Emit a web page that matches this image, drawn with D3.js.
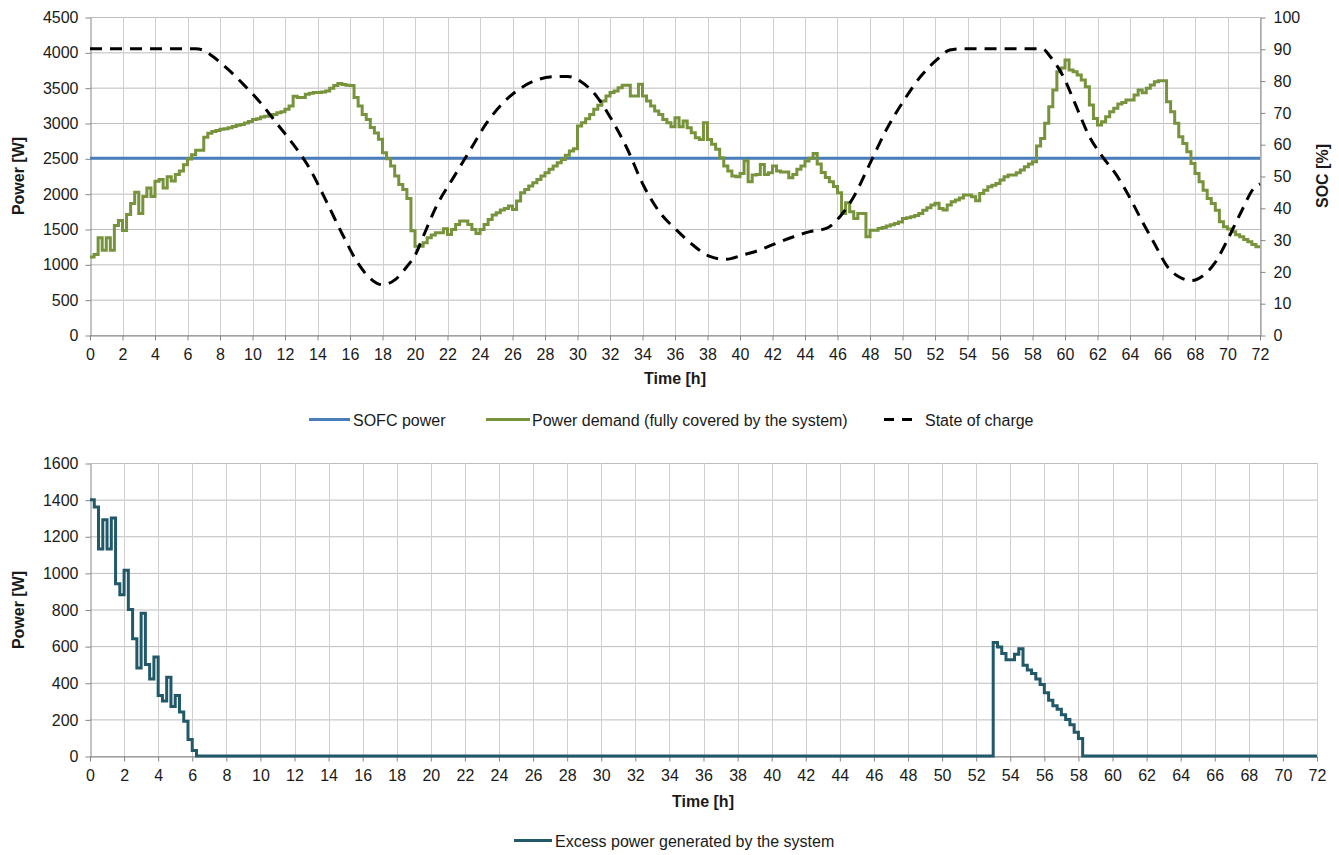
<!DOCTYPE html>
<html>
<head>
<meta charset="utf-8">
<script src="https://cdn.jsdelivr.net/npm/d3@7"></script>
<style>
  body { margin: 0; background: #fff; }
  text { font-family: "Liberation Sans", Arial, sans-serif; }
</style>
</head>
<body>
<svg id="chart" width="1339" height="855"></svg>
<script>
// ---- data ----
var timeTicks = [0,2,4,6,8,10,12,14,16,18,20,22,24,26,28,30,32,34,36,38,40,42,44,46,48,50,52,54,56,58,60,62,64,66,68,70,72];
var powerTicks = [0,500,1000,1500,2000,2500,3000,3500,4000,4500];
var socTicks = [0,10,20,30,40,50,60,70,80,90,100];
var excessTicks = [0,200,400,600,800,1000,1200,1400,1600];

var sofcTimes = [0, 72];
var sofcPower = [2500, 2500];

// power demand, one value per quarter hour (4 per row = 1 hour)
var demandStep = 0.25;
var demand = [
  1105,1140,1375,1200, 1375,1200,1550,1620, 1480,1705,1860,2020, 1720,1960,2080,1960,
  2175,2200,2080,2240, 2180,2270,2320,2410, 2490,2550,2615,2615, 2800,2855,2880,2895,
  2910,2920,2933,2950, 2967,2980,3000,3020, 3050,3060,3085,3095, 3108,3120,3146,3160,
  3193,3240,3380,3360, 3360,3406,3420,3430, 3430,3440,3453,3490, 3530,3560,3545,3535,
  3530,3360,3240,3120, 3050,2935,2860,2770, 2580,2495,2390,2250, 2130,2060,1930,1475,
  1255,1255,1305,1376, 1414,1447,1447,1503, 1423,1494,1565,1612, 1612,1565,1494,1437,
  1494,1565,1636,1697, 1730,1768,1790,1824, 1777,1895,2013,2060, 2108,2155,2202,2250,
  2296,2344,2391,2438, 2485,2542,2603,2636, 2957,3004,3061,3122, 3193,3250,3311,3382,
  3430,3453,3500,3533, 3533,3382,3382,3547, 3382,3311,3240,3170, 3122,3050,3004,2948,
  3075,2948,3028,2934, 2863,2792,2768,3004, 2768,2698,2627,2509, 2391,2320,2250,2239,
  2287,2466,2169,2263, 2273,2414,2273,2296, 2391,2320,2306,2306, 2226,2273,2344,2391,
  2462,2500,2570,2420, 2300,2230,2170,2100, 2013,1720,1871,1744, 1650,1720,1720,1390,
  1484,1484,1508,1520, 1541,1560,1579,1600, 1650,1660,1673,1690, 1720,1767,1800,1838,
  1863,1791,1768,1838, 1885,1909,1940,1980, 1980,1956,1900,2004, 2050,2098,2120,2145,
  2192,2239,2263,2263, 2296,2334,2381,2420, 2452,2674,2782,2995, 3230,3467,3726,3780,
  3891,3750,3726,3679, 3608,3514,3254,3065, 2971,3018,3089,3160, 3207,3268,3290,3325,
  3325,3396,3467,3429, 3490,3537,3585,3599, 3599,3301,3160,2995, 2806,2711,2593,2428,
  2287,2169,2050,1933, 1862,1767,1602,1531, 1500,1461,1420,1390, 1350,1319,1280,1248
];

// state of charge [%], read at selected times [h]
var socTimes = [0,6.5,7,7.5,8.5,9.5,10.5,11.5,12.5,13.5,14.5,15.5,16.5,17.2,18,18.8,19.5,20,20.5,21.3,
  22.4,23.4,24.4,25.4,26.5,27.5,28.5,29.4,30.2,31.2,32,33,34.1,35.1,36.1,37.1,38.1,39.1,40.2,41.2,
  42.2,43.3,44.3,45.3,46.15,47,48,49,50.1,51.1,52.1,52.9,53.5,58.6,59.1,59.9,60.7,61.5,62.3,63.1,
  63.9,64.7,65.5,66.3,67.2,67.8,68.4,69.2,70,70.8,71.7,72];
var socValues = [90,90,89.5,87.8,83.5,78.5,73,66.5,60,52.5,42.5,32,22.5,18,15.8,17.5,21.5,25,30.9,40.3,
  49.8,58.2,66.6,72.9,77.6,80.2,81.2,81.3,79.7,74.9,68.6,59.2,46.6,38.3,33,28.3,24.8,23.8,25.2,26.7,
  28.8,30.9,32.5,33.5,37.2,43.5,54,64.5,73.9,81.2,86.5,89.6,90,90,87.5,81.2,71.8,62.4,56.1,50.8,
  44,36.2,28.8,21.5,17.8,17.1,18.3,22.5,29.9,38.3,46.6,47.5];

// excess power: step start time [h] and value [W]
var excessTimes = [0,0.25,0.5,0.75,1,1.25,1.5,1.75,2,2.25,2.5,2.75,3,3.25,3.5,3.75,4,4.25,4.5,4.75,
  5,5.25,5.5,5.75,6,6.25,53,53.25,53.5,53.75,54,54.25,54.5,54.75,55,55.25,55.5,55.75,56,56.25,
  56.5,56.75,57,57.25,57.5,57.75,58,58.25,72];
var excessValues = [1400,1360,1130,1290,1130,1300,940,880,1015,800,640,480,780,500,420,540,330,300,430,270,
  330,240,190,90,30,0,620,595,560,525,525,555,585,495,470,450,420,390,345,305,
  275,255,225,200,170,130,95,0,0];

// ---- drawing ----
var svg = d3.select("#chart");
var fontSize = 16, titleSize = 16;
var gridH = "#bdbdbd", gridV = "#cfcfcf", axisCol = "#868686", textCol = "#1a1a1a";
var fmt = d3.format("d");

function frame(x, y, yTicks, left, right, top, bottom) {
  // gridlines
  svg.append("g").selectAll("line").data(yTicks).enter().append("line")
    .attr("x1", left).attr("x2", right)
    .attr("y1", function(d) { return y(d) + 0.5; }).attr("y2", function(d) { return y(d) + 0.5; })
    .attr("stroke", gridH);
  svg.append("g").selectAll("line").data(timeTicks.slice(1)).enter().append("line")
    .attr("x1", function(d) { return Math.round(x(d)) + 0.5; }).attr("x2", function(d) { return Math.round(x(d)) + 0.5; })
    .attr("y1", top).attr("y2", bottom)
    .attr("stroke", gridV);

  var ya = svg.append("g").attr("transform", "translate(" + (left + 0.5) + ",0.5)")
    .call(d3.axisLeft(y).tickValues(yTicks).tickFormat(fmt).tickSize(5).tickPadding(7).tickSizeOuter(0));
  var xa = svg.append("g").attr("transform", "translate(0," + (bottom + 0.5) + ")")
    .call(d3.axisBottom(x).tickValues(timeTicks).tickFormat(fmt).tickSize(5).tickPadding(8).tickSizeOuter(0));
  [ya, xa].forEach(function(a) {
    a.select(".domain").attr("stroke", axisCol);
    a.selectAll(".tick line").attr("stroke", axisCol);
    a.selectAll("text").attr("font-size", fontSize).attr("fill", textCol)
      .attr("font-family", '"Liberation Sans", Arial, sans-serif');
  });
}

function axisTitle(txt, x, y, rotate) {
  svg.append("text")
    .attr("transform", "translate(" + x + "," + y + ")" + (rotate ? " rotate(-90)" : ""))
    .attr("text-anchor", "middle").attr("dy", "0.35em")
    .attr("font-size", titleSize).attr("font-weight", "bold").attr("fill", textCol)
    .text(txt);
}

// --- top chart ---
var xTop = d3.scaleLinear().domain([0, 72]).range([90, 1260]);
var yPow = d3.scaleLinear().domain([0, 4500]).range([335, 17]);
var ySoc = d3.scaleLinear().domain([0, 100]).range([335, 17]);

frame(xTop, yPow, powerTicks, 90, 1260, 17, 335);

var ra = svg.append("g").attr("transform", "translate(1260.5,0.5)")
  .call(d3.axisRight(ySoc).tickValues(socTicks).tickFormat(fmt).tickSize(5).tickPadding(8).tickSizeOuter(0));
ra.select(".domain").attr("stroke", axisCol);
ra.selectAll(".tick line").attr("stroke", axisCol);
ra.selectAll("text").attr("font-size", fontSize).attr("fill", textCol)
  .attr("font-family", '"Liberation Sans", Arial, sans-serif');

axisTitle("Power [W]", 18, 176, true);
axisTitle("SOC [%]", 1322, 176, true);
axisTitle("Time [h]", 675, 378, false);

var sofcLine = d3.line().x(function(d, i) { return xTop(sofcTimes[i]); }).y(function(d) { return yPow(d); });
svg.append("path").datum(sofcPower).attr("d", sofcLine)
  .attr("fill", "none").attr("stroke", "#4a7ebb").attr("stroke-width", 3);

var demandPts = demand.map(function(v, i) { return [i * demandStep, v]; });
demandPts.push([72, demand[demand.length - 1]]);
var demandLine = d3.line().curve(d3.curveStepAfter)
  .x(function(d) { return xTop(d[0]); }).y(function(d) { return yPow(d[1]); });
svg.append("path").datum(demandPts).attr("d", demandLine)
  .attr("fill", "none").attr("stroke", "#77933c").attr("stroke-width", 3);

var socLine = d3.line().curve(d3.curveMonotoneX)
  .x(function(d, i) { return xTop(socTimes[i]); }).y(function(d) { return ySoc(d); });
svg.append("path").datum(socValues).attr("d", socLine)
  .attr("fill", "none").attr("stroke", "#000").attr("stroke-width", 3)
  .attr("stroke-dasharray", "12,8");

// legend top
var lg = svg.append("g").attr("font-size", fontSize).attr("fill", textCol);
lg.append("line").attr("x1", 309).attr("x2", 350).attr("y1", 419.5).attr("y2", 419.5)
  .attr("stroke", "#4a7ebb").attr("stroke-width", 3);
lg.append("text").attr("x", 353).attr("y", 420).attr("dy", "0.35em").text("SOFC power");
lg.append("line").attr("x1", 486).attr("x2", 530).attr("y1", 419.5).attr("y2", 419.5)
  .attr("stroke", "#77933c").attr("stroke-width", 3);
lg.append("text").attr("x", 532).attr("y", 420).attr("dy", "0.35em").text("Power demand (fully covered by the system)");
lg.append("line").attr("x1", 884).attr("x2", 913).attr("y1", 419.5).attr("y2", 419.5)
  .attr("stroke", "#000").attr("stroke-width", 3).attr("stroke-dasharray", "10,8");
lg.append("text").attr("x", 925).attr("y", 420).attr("dy", "0.35em").text("State of charge");

// --- bottom chart ---
var xBot = d3.scaleLinear().domain([0, 72]).range([90, 1317]);
var yEx = d3.scaleLinear().domain([0, 1600]).range([756, 463]);

frame(xBot, yEx, excessTicks, 90, 1317, 463, 756);
axisTitle("Power [W]", 18, 610, true);
axisTitle("Time [h]", 703, 801, false);

var excessLine = d3.line().curve(d3.curveStepAfter)
  .x(function(d, i) { return xBot(excessTimes[i]); }).y(function(d) { return yEx(d); });
svg.append("path").datum(excessValues).attr("d", excessLine)
  .attr("fill", "none").attr("stroke", "#215968").attr("stroke-width", 3);

var lb = svg.append("g").attr("font-size", fontSize).attr("fill", textCol);
lb.append("line").attr("x1", 514).attr("x2", 552).attr("y1", 840.5).attr("y2", 840.5)
  .attr("stroke", "#215968").attr("stroke-width", 3);
lb.append("text").attr("x", 555).attr("y", 841).attr("dy", "0.35em").text("Excess power generated by the system");
</script>
</body>
</html>
